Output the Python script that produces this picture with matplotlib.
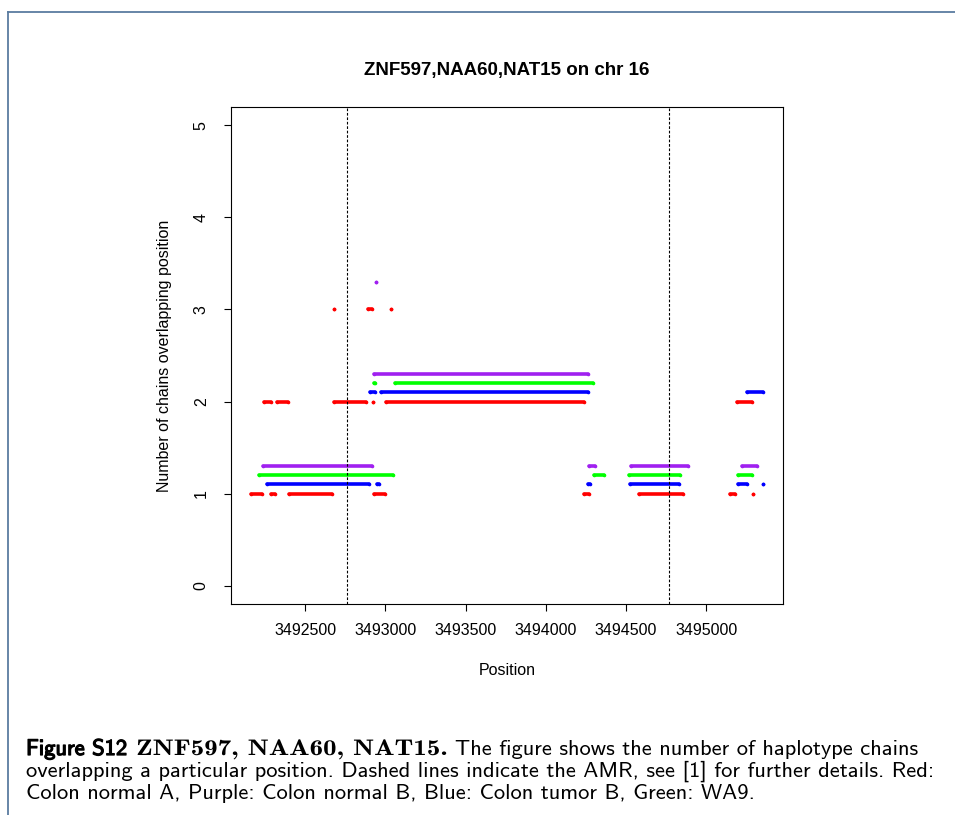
import matplotlib
matplotlib.use('Agg')
import matplotlib.pyplot as plt
from matplotlib import patheffects
from matplotlib.lines import Line2D
from matplotlib.patches import PathPatch
from matplotlib.textpath import TextPath
from matplotlib.font_manager import FontProperties
from matplotlib.transforms import Affine2D

# runs of constant chain count for each sample: (start, end, count)
red_runs = [(3492164, 3492231, 1), (3492289, 3492310, 1), (3492401, 3492668, 1),
            (3492930, 3492997, 1), (3494241, 3494269, 1), (3494584, 3494857, 1),
            (3495148, 3495182, 1), (3495291, 3495291, 1),
            (3492241, 3492284, 2), (3492322, 3492392, 2), (3492678, 3492880, 2),
            (3492923, 3492923, 2), (3493005, 3494237, 2), (3495190, 3495284, 2),
            (3492679, 3492679, 3), (3492892, 3492916, 3), (3493033, 3493033, 3)]
blue_runs = [(3492264, 3492897, 1), (3492946, 3492958, 1), (3494266, 3494277, 1),
             (3494525, 3494830, 1), (3495196, 3495255, 1), (3495352, 3495352, 1),
             (3492904, 3492935, 2), (3492971, 3494261, 2), (3495258, 3495352, 2)]
green_runs = [(3492214, 3493049, 1), (3494301, 3494366, 1), (3494519, 3494837, 1),
              (3495198, 3495288, 1),
              (3492927, 3492933, 2), (3493058, 3494294, 2)]
purple_runs = [(3492234, 3492918, 1), (3494269, 3494306, 1), (3494530, 3494887, 1),
               (3495223, 3495319, 1),
               (3492927, 3494262, 2),
               (3492938, 3492938, 3)]

amr_bounds = [3492758, 3494769]
x_ticks = [3492500, 3493000, 3493500, 3494000, 3494500, 3495000]
y_ticks = [0, 1, 2, 3, 4, 5]

# colour and vertical offset per sample
series = [('#ff0000', red_runs, 0.0),
          ('#0000ff', blue_runs, 0.1),
          ('#00ff00', green_runs, 0.2),
          ('#a020f0', purple_runs, 0.3)]

W, H = 955, 815
fig = plt.figure(figsize=(W / 100, H / 100), dpi=100)
ax = fig.add_axes([231 / W, 1 - 604 / H, 552 / W, 497 / H])

lw = 2.6
for color, runs, off in series:
    for s, e, n in runs:
        ax.plot([s, e], [n + off, n + off], color=color, lw=lw,
                solid_capstyle='round', marker='o', ms=lw, mew=0)

for b in amr_bounds:
    ax.axvline(b, color='black', lw=0.8, ls=(0, (2.4, 1.6)))

xs = [p for _, runs, _ in series for r in runs for p in r[:2]]
lo, hi = min(xs), max(xs)
pad = 0.04 * (hi - lo)
ax.set_xlim(lo - pad, hi + pad)
ax.set_ylim(-0.2, 5.2)

tick_font = dict(family='Liberation Sans', size=11.5)
ax.set_xticks(x_ticks)
ax.set_xticklabels([str(t) for t in x_ticks], fontdict=tick_font)
ax.set_yticks(y_ticks)
ax.set_yticklabels([str(t) for t in y_ticks], fontdict=tick_font,
                   rotation=90, va='center')
ax.tick_params(axis='both', direction='out', length=5, width=0.8, color='black')
ax.tick_params(axis='x', pad=9)
ax.tick_params(axis='y', pad=11)
for sp in ax.spines.values():
    sp.set_linewidth(0.8)

ax.text(0.5, -0.133, 'Position', transform=ax.transAxes, ha='center', va='center',
        family='Liberation Sans', size=11.5)
ax.text(-0.12, 0.5, 'Number of chains overlapping position', transform=ax.transAxes,
        ha='center', va='center', rotation=90, family='Liberation Sans', size=11.5)
fig.text(507 / W, 1 - 70 / H, 'ZNF597,NAA60,NAT15 on chr 16', ha='center', va='center',
         family='Liberation Sans', weight='bold', size=13.5)

# page frame
fig.add_artist(Line2D([7.5 / W, 7.5 / W], [0, 1 - 11.5 / H], color='#5a7ca0', lw=1.3))
fig.add_artist(Line2D([7.5 / W, 1], [1 - 11.5 / H, 1 - 11.5 / H], color='#5a7ca0', lw=1.3))

# caption, pieces laid out one after another
cap_size = 16.2
cap_px = cap_size * 100 / 72
x0 = 26
fig.canvas.draw()
renderer = fig.canvas.get_renderer()
base1 = 755
bold = [patheffects.withStroke(linewidth=0.9, foreground='black')]
t = fig.text(x0 / W, 1 - base1 / H, 'Figure S12', family='cmss10', size=cap_size,
             path_effects=bold)
x = t.get_window_extent(renderer).x1 + 9

# bold extended serif for the gene names, widened from cmb10 outlines
gene_path = TextPath((0, 0), 'ZNF597, NAA60, NAT15.', size=cap_px,
                     prop=FontProperties(family='cmb10'))
stretch = 1.2
ext = gene_path.get_extents()
fig.add_artist(PathPatch(gene_path, facecolor='black', edgecolor='none',
                         transform=Affine2D().scale(stretch, 1).translate(x, H - base1)))
x = x + ext.x1 * stretch + 9

fig.text(x / W, 1 - base1 / H, 'The figure shows the number of haplotype chains',
         family='cmss10', size=cap_size)
fig.text(x0 / W, 1 - (base1 + 22) / H,
         'overlapping a particular position. Dashed lines indicate the AMR, see [1] for further details. Red:',
         family='cmss10', size=cap_size)
fig.text(x0 / W, 1 - (base1 + 44) / H,
         'Colon normal A, Purple: Colon normal B, Blue: Colon tumor B, Green: WA9.',
         family='cmss10', size=cap_size)

fig.savefig('out.png', dpi=100)
